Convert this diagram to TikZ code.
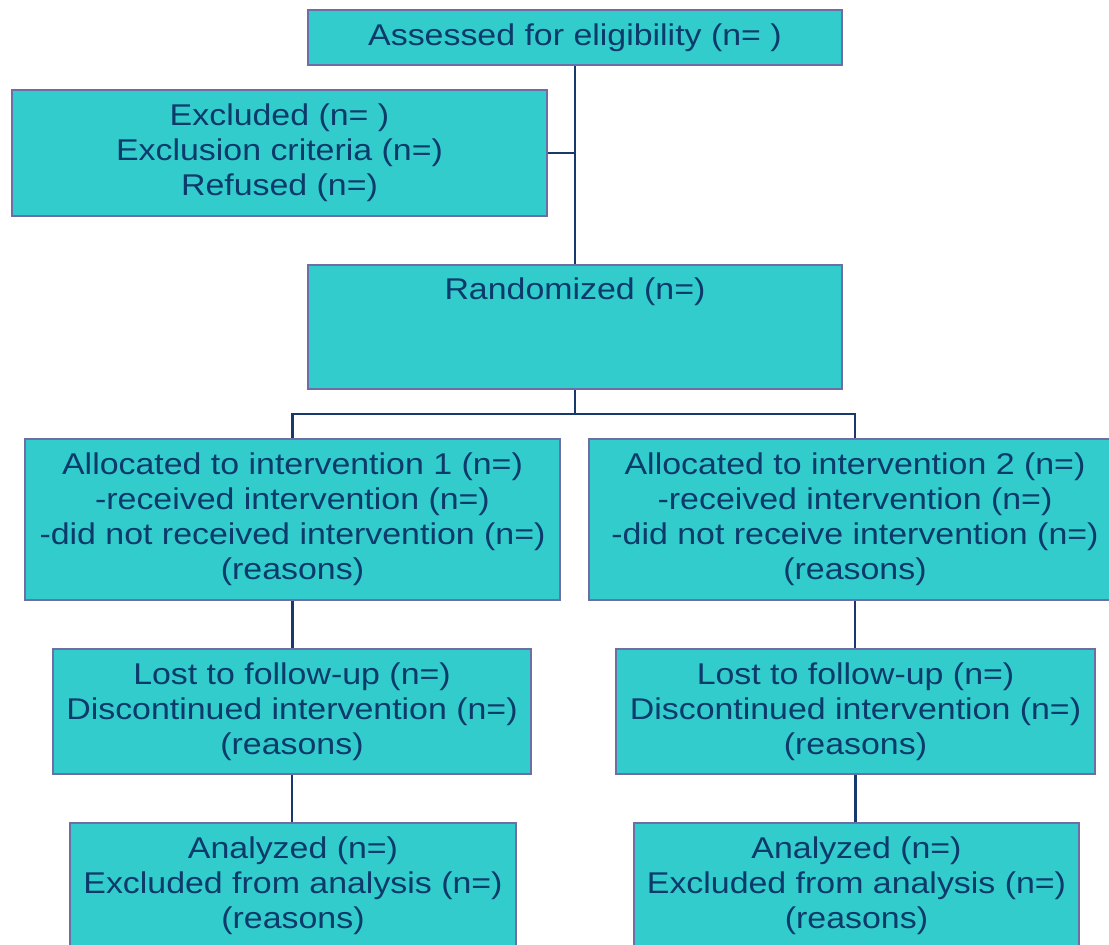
\documentclass[tikz,border=0pt]{standalone}
\usepackage{fontspec}
\setmainfont{Liberation Sans}[FakeStretch=1.13]
\definecolor{boxfill}{HTML}{33CCCC}
\definecolor{boxborder}{HTML}{6E6EA6}
\definecolor{txt}{HTML}{0C3A6B}
\definecolor{conn}{HTML}{17396B}
\tikzset{
  box/.style={draw=boxborder, fill=boxfill, line width=2.5pt, inner sep=0pt,
    text=txt, align=center, font=\fontsize{30}{35}\selectfont},
  lbl/.style={text=txt, inner sep=0pt, font=\fontsize{30}{35}\selectfont},
  link/.style={draw=conn, line width=2.5pt}
}
\begin{document}
\begin{tikzpicture}[x=1pt, y=-1pt]
\clip (0,0) rectangle (1109,945);
\fill[white] (0,0) rectangle (1109,945);

\node[box, minimum width=534pt, minimum height=55pt] (assess) at (575,37.5) {Assessed for eligibility (n= )};
\node[box, minimum width=535pt, minimum height=126pt] (excl) at (279.5,153) {Excluded (n= )\\Exclusion criteria (n=)\\Refused (n=)};
\node[box, minimum width=534pt, minimum height=124pt] (rand) at (575,327) {};
\node[lbl] (randtxt) at (575,292) {Randomized (n=)};
\node[box, minimum width=535pt, minimum height=161pt] (alloc1) at (292.5,519.5) {Allocated to intervention 1 (n=)\\-received intervention (n=)\\-did not received intervention (n=)\\(reasons)};
\node[box, minimum width=532pt, minimum height=161pt] (alloc2) at (855,519.5) {Allocated to intervention 2 (n=)\\-received intervention (n=)\\-did not receive intervention (n=)\\(reasons)};
\node[box, minimum width=478pt, minimum height=125pt] (lost1) at (292,711.5) {Lost to follow-up (n=)\\Discontinued intervention (n=)\\(reasons)};
\node[box, minimum width=479pt, minimum height=125pt] (lost2) at (855.5,711.5) {Lost to follow-up (n=)\\Discontinued intervention (n=)\\(reasons)};
\node[box, minimum width=446pt, minimum height=126pt] (ana1) at (293,886) {Analyzed (n=)\\Excluded from analysis (n=)\\(reasons)};
\node[box, minimum width=445pt, minimum height=126pt] (ana2) at (856.5,886) {Analyzed (n=)\\Excluded from analysis (n=)\\(reasons)};

\coordinate (split) at (575,414);
\draw[link] (assess.south) -- (rand.north);
\draw[link] (excl.east) -- (excl.east -| assess.south);
\draw[link] (rand.south) -- (split);
\draw[link] (alloc1.north) |- (split) -| (alloc2.north);
\draw[link] (alloc1.south) -- (alloc1.south |- lost1.north);
\draw[link] (alloc2.south) -- (alloc2.south |- lost2.north);
\draw[link] (lost1.south) -- (lost1.south |- ana1.north);
\draw[link] (lost2.south) -- (lost2.south |- ana2.north);
\end{tikzpicture}
\end{document}
